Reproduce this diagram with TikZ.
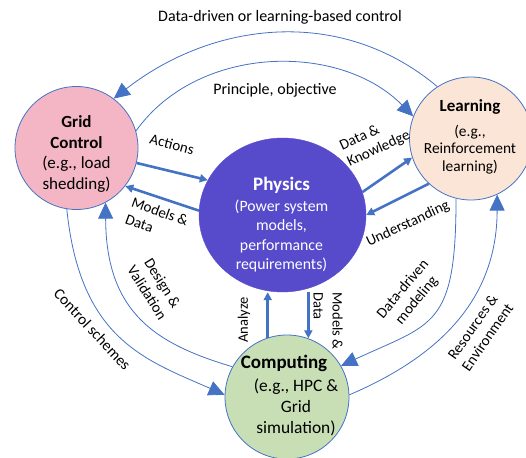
\documentclass[tikz,border=0pt]{standalone}
\usepackage{fontspec}
\setmainfont{Carlito}
\usetikzlibrary{arrows.meta,shapes.geometric}
\definecolor{ablue}{HTML}{4472C4}
\definecolor{gcpink}{HTML}{F4B6C4}
\definecolor{lpeach}{HTML}{FBE5D6}
\definecolor{physc}{HTML}{574BCB}
\definecolor{cgreen}{HTML}{C8DFB6}
\begin{document}
\begin{tikzpicture}[x=1bp,y=-1bp,
  circ/.style={circle,draw=ablue,line width=0.8bp,minimum size=123bp,inner sep=0pt},
  thinarc/.style={draw=ablue,line width=0.8bp,-{Triangle[length=16bp,width=15bp]}},
  thickarr/.style={draw=ablue,line width=2.6bp,-{Triangle[length=8bp,width=8bp]}},
  lbl/.style={font=\fontsize{15bp}{18bp}\selectfont,inner sep=0pt,align=center},
  bigtxt/.style={inner sep=0pt,align=center},
]
\useasboundingbox (0,0) rectangle (526,458);

% circles
\node[circ,fill=gcpink] (gc) at (76.5,148) {};
\node[circ,fill=lpeach] (learn) at (471,138.5) {};
\node[ellipse,fill=physc,draw=physc,minimum width=167bp,minimum height=154bp,inner sep=0pt] (phys) at (282.5,215) {};
\node[circ,fill=cgreen,minimum size=124bp] (comp) at (287,397) {};

% circle texts
\node[bigtxt,font=\fontsize{17bp}{20.5bp}\selectfont] (gctxt) at (76.5,154) {\textbf{Grid}\\\textbf{Control}\\(e.g., load\\shedding)};
\node[bigtxt,font=\bfseries\fontsize{17bp}{20bp}\selectfont] (learnhead) at (470,107) {Learning};
\node[bigtxt,font=\fontsize{15.4bp}{17.5bp}\selectfont] (learntxt) at (470,149.5) {(e.g.,\\Reinforcement\\learning)};
\node[bigtxt,text=white,font=\bfseries\fontsize{19bp}{22bp}\selectfont] (physhead) at (281.5,185) {Physics};
\node[bigtxt,text=white,font=\fontsize{15.8bp}{19.3bp}\selectfont] (phystxt) at (281.5,236) {(Power system\\models,\\performance\\requirements)};
\node[bigtxt,font=\bfseries\fontsize{19bp}{22bp}\selectfont] (comphead) at (284,363) {Computing};
\node[bigtxt,font=\fontsize{17.4bp}{21bp}\selectfont] (comptxt) at (296,407) {(e.g., HPC \&\\Grid\\simulation)};

% thin arcs
\draw[thinarc] (learn.123) .. controls (340,5) and (212,22) .. (gc.53);
\draw[thinarc] (gc.16) .. controls (198,44) and (340,42) .. (learn.159);
\draw[thinarc] (gc.-99) .. controls (80,340) and (146,360) .. (comp.178);
\draw[thinarc] (comp.151) .. controls (156,344) and (106,313) .. (gc.-62);
\draw[thinarc] (learn.-104) .. controls (456,328) and (433,323) .. (comp.30);
\draw[thinarc] (comp.2) .. controls (433,359) and (497,304) .. (learn.-65);

% thick arrows
\draw[thickarr] (gc.-14) -- (phys.155);
\draw[thickarr] (phys.177) -- (gc.-38);
\draw[thickarr] (phys.16) -- (learn.198);
\draw[thickarr] (learn.227) -- (phys.0);
\draw[thickarr] (comp.108) -- (comp.108 |- phys.south);
\draw[thickarr] (comp.70 |- phys.south) -- (comp.70);

% labels
\node[lbl,font=\fontsize{16bp}{19bp}\selectfont] (ldd) at (280,17.5) {Data-driven or learning-based control};
\node[lbl,font=\fontsize{16bp}{19bp}\selectfont] (lpo) at (275,90) {Principle, objective};
\node[lbl,rotate=-15] (lact) at (172,144) {Actions};
\node[lbl,rotate=-20,align=left] (lmd) at (157,220) {Models \&\\Data};
\node[lbl,rotate=25,align=left] (ldk) at (375,141) {Data \&\\Knowledge};
\node[lbl,rotate=25] (lund) at (408,224) {Understanding};
\node[lbl,rotate=50] (lddm) at (410,295) {Data-driven\\modeling};
\node[lbl,rotate=55] (lre) at (480,332) {Resources \&\\Environment};
\node[lbl,rotate=-47,font=\fontsize{15.5bp}{18bp}\selectfont] (lcs) at (92.5,329.5) {Control schemes};
\node[lbl,rotate=-58] (ldv) at (155,288) {Design \&\\Validation};
\node[lbl,rotate=90,font=\fontsize{14.5bp}{17bp}\selectfont] (lan) at (244,320) {Analyze};
\node[lbl,rotate=-90,align=left,font=\fontsize{14.5bp}{19bp}\selectfont] (lmd2) at (328,321) {Models \&\\Data};
\end{tikzpicture}
\end{document}
